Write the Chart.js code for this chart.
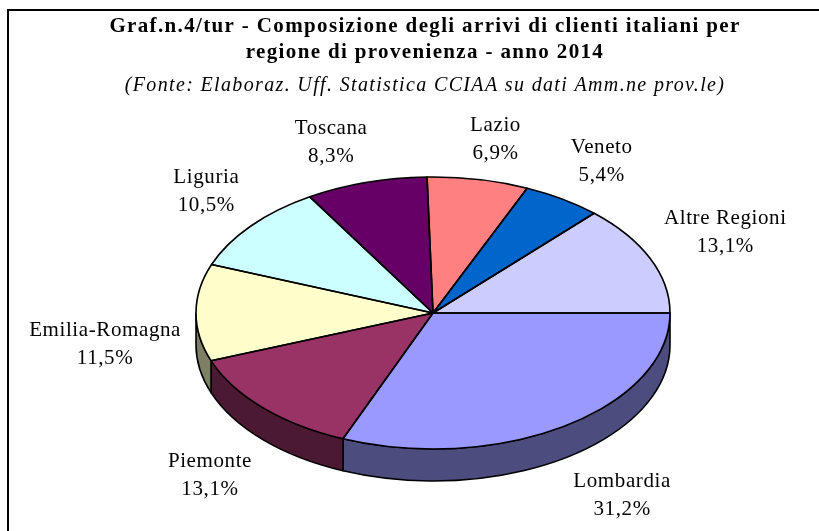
<!DOCTYPE html>
<html lang="it">
<head>
<meta charset="utf-8">
<title>Composizione degli arrivi di clienti italiani per regione di provenienza - anno 2014</title>
<script src="https://cdn.jsdelivr.net/npm/chart.js@4.4.1/dist/chart.umd.min.js"></script>
<style>
  html, body { margin: 0; padding: 0; background: #fff; }
  #wrap { position: relative; width: 819px; height: 531px; }
</style>
</head>
<body>
<div id="wrap"><canvas id="chart"></canvas></div>
<script>
// dati del grafico
const regioni = ['Lombardia', 'Piemonte', 'Emilia-Romagna', 'Liguria', 'Toscana', 'Lazio', 'Veneto', 'Altre Regioni'];
const quote = [31.2, 13.1, 11.5, 10.5, 8.3, 6.9, 5.4, 13.1];
const colori = ['#9999FF', '#993366', '#FFFFCC', '#CCFFFF', '#660066', '#FF8080', '#0066CC', '#CCCCFF'];

const titolo = ['Graf.n.4/tur - Composizione degli arrivi di clienti italiani per', 'regione di provenienza - anno 2014'];
const fonte = '(Fonte: Elaboraz. Uff. Statistica CCIAA su dati Amm.ne prov.le)';

const SERIF = "'Liberation Serif', 'Times New Roman', serif";

// proiezione "3D" della torta (ellisse + spessore)
const vista = { cx: 433, cy: 313, rx: 237, ry: 136, depth: 32 };

function scurisci(hex) {
    const n = parseInt(hex.slice(1), 16);
    const r = (n >> 16) >> 1, g = ((n >> 8) & 255) >> 1, b = (n & 255) >> 1;
    return `rgb(${r},${g},${b})`;
}
const clamp = (v, lo, hi) => Math.max(lo, Math.min(hi, v));

const pie3d = {
    id: 'pie3d',
    beforeDraw(chart) {
        const ctx = chart.ctx;
        ctx.save();
        ctx.fillStyle = '#fff';
        ctx.fillRect(0, 0, chart.width, chart.height);
        // cornice del grafico
        ctx.strokeStyle = '#000';
        ctx.lineWidth = 2;
        ctx.strokeRect(8, 10, 1000, 1000);
        ctx.restore();
        ctx.letterSpacing = '1.35px'; // spaziatura di titolo e fonte
    },
    beforeDatasetsDraw(chart) {
        const ctx = chart.ctx;
        const arcs = chart.getDatasetMeta(0).data;
        const { cx, cy, rx, ry, depth } = vista;
        ctx.save();
        ctx.lineWidth = 1.6;
        ctx.strokeStyle = '#000';
        ctx.lineJoin = 'round';

        // fianchi visibili (metà anteriore)
        arcs.forEach((arc, i) => {
            const a1 = Math.max(arc.startAngle, 0);
            const a2 = Math.min(arc.endAngle, Math.PI);
            if (a2 <= a1) return;
            ctx.beginPath();
            ctx.ellipse(cx, cy, rx, ry, 0, a1, a2);
            ctx.ellipse(cx, cy + depth, rx, ry, 0, a2, a1, true);
            ctx.closePath();
            ctx.fillStyle = scurisci(colori[i]);
            ctx.fill();
            ctx.stroke();
        });

        // facce superiori: archi di Chart.js schiacciati
        arcs.forEach(arc => {
            ctx.save();
            ctx.translate(cx, cy);
            ctx.scale(rx / arc.outerRadius, ry / arc.outerRadius);
            ctx.translate(-arc.x, -arc.y);
            arc.draw(ctx);
            ctx.restore();
        });

        // contorni
        arcs.forEach(arc => {
            ctx.beginPath();
            ctx.moveTo(cx, cy);
            ctx.ellipse(cx, cy, rx, ry, 0, arc.startAngle, arc.endAngle);
            ctx.closePath();
            ctx.stroke();
        });
        ctx.restore();
        return false;
    },
    afterDraw(chart) {
        const ctx = chart.ctx;
        const arcs = chart.getDatasetMeta(0).data;
        const { cx, cy, rx, ry, depth } = vista;
        const lh = 28, gap = 15;
        ctx.save();
        ctx.font = `21px ${SERIF}`;
        ctx.letterSpacing = '0.6px';
        ctx.fillStyle = '#000';
        ctx.textAlign = 'center';
        ctx.textBaseline = 'middle';
        arcs.forEach((arc, i) => {
            const mid = (arc.startAngle + arc.endAngle) / 2;
            const c = Math.cos(mid), s = Math.sin(mid);
            const righe = [regioni[i], quote[i].toFixed(1).replace('.', ',') + '%'];
            const w = Math.max(...righe.map(t => ctx.measureText(t).width));
            const x = cx + (rx + gap) * c + w / 2 * clamp(3 * c, -1, 1);
            const y = cy + (ry + gap) * s + lh * 0.9 * clamp(2 * s, -1, 1) + depth * clamp(3 * s + 1, 0, 1);
            ctx.fillText(righe[0], x, y - lh / 2);
            ctx.fillText(righe[1], x, y + lh / 2);
        });
        ctx.restore();
    }
};

new Chart(document.getElementById('chart'), {
    type: 'pie',
    data: {
        labels: regioni,
        datasets: [{
            data: quote,
            backgroundColor: colori,
            borderWidth: 0,
            clip: false
        }]
    },
    options: {
        responsive: true,
        maintainAspectRatio: false,
        animation: false,
        events: [],
        rotation: 90,
        layout: { padding: { left: 31, right: 0, top: 0, bottom: 20 } },
        plugins: {
            legend: { display: false },
            tooltip: { enabled: false },
            title: {
                display: true,
                text: titolo,
                color: '#000',
                font: { family: SERIF, size: 21, weight: 'bold', lineHeight: 1.25 },
                padding: { top: 13, bottom: 6 }
            },
            subtitle: {
                display: true,
                text: fonte,
                color: '#000',
                font: { family: SERIF, size: 20, style: 'italic', lineHeight: 1.2 },
                padding: { top: 2, bottom: 10 }
            }
        }
    },
    plugins: [pie3d]
});
</script>
</body>
</html>
